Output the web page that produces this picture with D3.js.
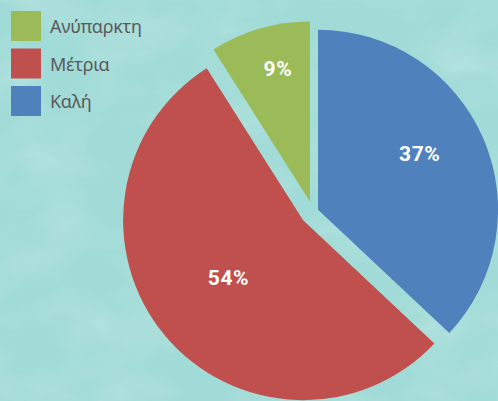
<!DOCTYPE html>
<html>
<head>
<meta charset="utf-8">
<script src="https://cdn.jsdelivr.net/npm/d3@7"></script>
<style>
  html, body { margin: 0; padding: 0; background: #a4dcd8; }
  svg { display: block; }
</style>
</head>
<body>
<div id="piechart"></div>
<script>
// data, in pie order (clockwise from 12 o'clock)
var categories = ["Καλή", "Μέτρια", "Ανύπαρκτη"];
var percents = [37, 54, 9];
var labels = ["37%", "54%", "9%"];
// legend is listed bottom-up compared to the pie
var legendOrder = ["Ανύπαρκτη", "Μέτρια", "Καλή"];

var colors = {"Καλή": "#4f81bd", "Μέτρια": "#c0504d", "Ανύπαρκτη": "#9bbb59"};
// how far each slice is pulled out, and where its label sits (distance, angle nudge in deg)
var explode = {"Καλή": 5.5, "Μέτρια": 12.8, "Ανύπαρκτη": 11};
var labelPos = {"Καλή": [116, -5.4], "Μέτρια": [94, 2.2], "Ανύπαρκτη": [137, 2.7]};

var width = 498,
    height = 401,
    radius = 180,
    cx = 313,
    cy = 212;

var svg = d3.select("#piechart")
    .append("svg")
    .attr("width", width)
    .attr("height", height);

// mottled paper background
var defs = svg.append("defs");
var filter = defs.append("filter")
    .attr("id", "mottle")
    .attr("x", 0).attr("y", 0).attr("width", "100%").attr("height", "100%");
filter.append("feTurbulence")
    .attr("type", "fractalNoise")
    .attr("baseFrequency", "0.012 0.02")
    .attr("numOctaves", 4)
    .attr("seed", 7);
filter.append("feColorMatrix")
    .attr("type", "matrix")
    .attr("values", "0 0 0 0 1  0 0 0 0 1  0 0 0 0 1  0 0 0 1.1 -0.45");

svg.append("rect")
    .attr("width", width)
    .attr("height", height)
    .style("fill", "#a1dbd7");
svg.append("rect")
    .attr("width", width)
    .attr("height", height)
    .attr("filter", "url(#mottle)")
    .style("opacity", 0.35);

var dataset = categories.map(function (c, i) {
    return {cat: c, value: percents[i], label: labels[i]};
});

var pie = d3.pie()
    .sort(null)
    .value(d => d.value)
    .startAngle(0)
    .endAngle(2 * Math.PI);

var arc = d3.arc()
    .innerRadius(0)
    .outerRadius(radius);

var g = svg.append("g")
    .attr("transform", `translate(${cx},${cy})`);

var slices = g.selectAll(".slice")
    .data(pie(dataset))
    .enter().append("g")
    .attr("class", "slice")
    .attr("transform", d => {
        var a = (d.startAngle + d.endAngle) / 2,
            e = explode[d.data.cat];
        return `translate(${Math.sin(a) * e},${-Math.cos(a) * e})`;
    });

slices.append("path")
    .attr("d", arc)
    .style("fill", d => colors[d.data.cat]);

slices.append("text")
    .attr("text-anchor", "middle")
    .attr("transform", d => {
        var p = labelPos[d.data.cat],
            a = (d.startAngle + d.endAngle) / 2 + p[1] * Math.PI / 180;
        return `translate(${Math.sin(a) * p[0]},${-Math.cos(a) * p[0] + 7.5})`;
    })
    .style("font-family", "Roboto, 'DejaVu Sans', sans-serif")
    .style("font-weight", "700")
    .style("font-size", "21px")
    .style("letter-spacing", "0.6px")
    .style("fill", "#ffffff")
    .text(d => d.data.label);

// legend
var legend = svg.selectAll(".legend")
    .data(legendOrder)
    .enter().append("g")
    .attr("class", "legend")
    .attr("transform", (d, i) => `translate(11,${11 + i * 37.5})`);

legend.append("rect")
    .attr("width", 30)
    .attr("height", 30)
    .style("fill", d => colors[d]);

legend.append("text")
    .attr("x", 39)
    .attr("y", 22)
    .style("font-family", "'Noto Sans', 'Open Sans', sans-serif")
    .style("font-size", "18px")
    .style("letter-spacing", "-0.3px")
    .style("fill", "#5a5a5a")
    .text(d => d);
</script>
</body>
</html>
